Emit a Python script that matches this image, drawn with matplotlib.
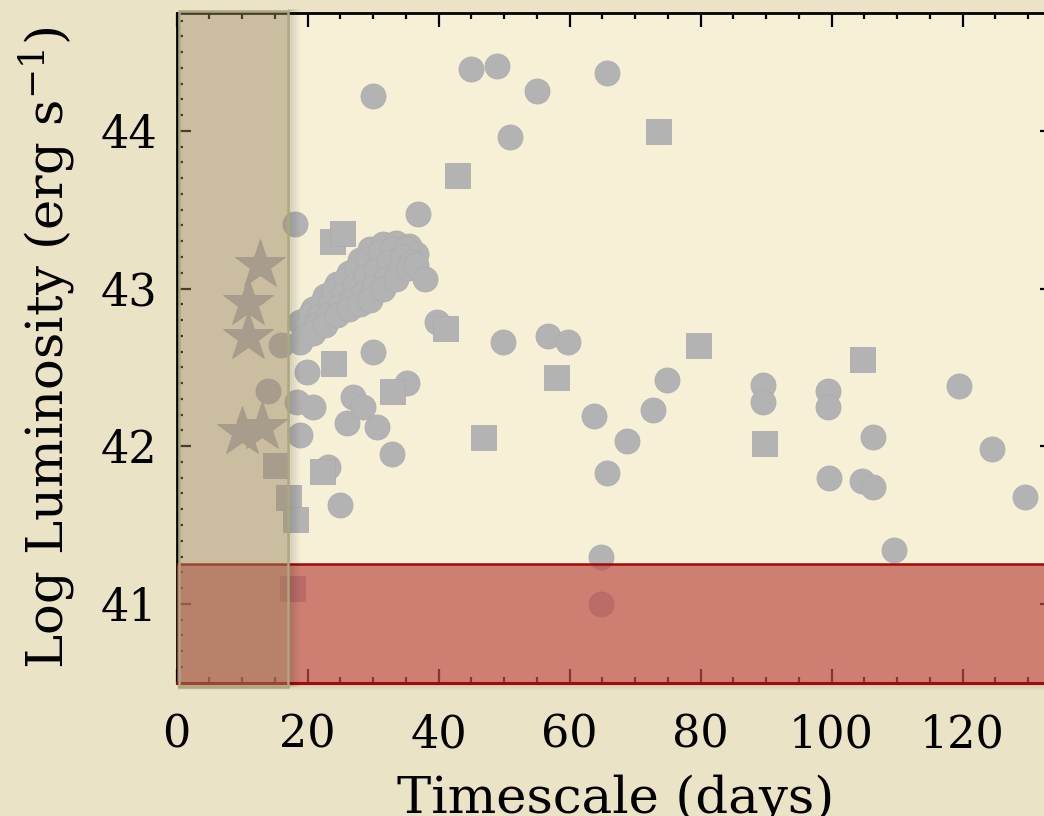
import numpy as np
import matplotlib
matplotlib.use("Agg")
import matplotlib.pyplot as plt
from matplotlib.patches import Rectangle
from matplotlib.ticker import MultipleLocator

plt.rcParams['font.family'] = ['DejaVu Serif']
plt.rcParams['mathtext.fontset'] = 'dejavuserif'

# events drawn as filled circles (timescale in days, log luminosity)
circle_x = [30.0, 45.0, 48.9, 55.0, 50.9, 65.7, 36.9, 18.1,
            # dense track of one source
            18.9, 20.8, 22.6, 24.5, 26.3, 28.0, 29.5, 31.5, 33.5, 35.5, 36.5,
            20.3, 22.2, 24.0, 25.9, 27.6, 29.3, 31.0, 33.0, 35.0,
            19.8, 21.7, 23.5, 25.4, 27.2, 29.0, 30.5, 32.5, 34.5,
            19.4, 21.3, 23.1, 25.0, 26.8, 28.6, 30.1, 32.0, 34.0, 36.0,
            18.9, 20.8, 22.6, 24.5, 26.3, 28.0, 29.5, 31.5, 33.5, 35.5, 36.5,
            37.9,
            19.9, 30.0, 39.8, 49.8, 14.0, 15.9, 18.4, 20.8, 18.9, 23.1, 25.0,
            26.9, 35.2, 26.0, 30.6, 28.5, 32.9,
            56.7, 59.8, 74.9, 72.7, 63.7, 68.8, 65.7,
            89.5, 89.5, 99.5, 99.5, 106.3, 119.5, 124.5, 129.5, 99.6, 104.7, 106.3,
            109.5, 64.8, 64.8]
circle_y = [44.22, 44.39, 44.41, 44.25, 43.96, 44.37, 43.47, 43.41,
            42.79, 42.87, 42.95, 43.03, 43.10, 43.18, 43.25, 43.28, 43.29, 43.27, 43.22,
            42.83, 42.91, 42.99, 43.06, 43.13, 43.19, 43.23, 43.25, 43.25,
            42.75, 42.82, 42.90, 42.96, 43.02, 43.08, 43.12, 43.17, 43.20,
            42.70, 42.77, 42.83, 42.89, 42.93, 42.97, 43.01, 43.06, 43.12, 43.17,
            42.66, 42.72, 42.77, 42.83, 42.87, 42.90, 42.93, 43.00, 43.06, 43.13, 43.15,
            43.06,
            42.47, 42.60, 42.79, 42.66, 42.35, 42.64, 42.28, 42.25, 42.07, 41.87, 41.63,
            42.31, 42.40, 42.15, 42.12, 42.25, 41.95,
            42.70, 42.66, 42.42, 42.23, 42.19, 42.03, 41.83,
            42.39, 42.28, 42.35, 42.25, 42.06, 42.38, 41.98, 41.68, 41.80, 41.78, 41.74,
            41.34, 41.30, 41.00]

# events drawn as squares
square_x = [23.7, 25.3, 23.9, 41.0, 15.0, 17.0, 18.1, 22.2, 32.9, 57.9,
            79.6, 46.8, 104.7, 89.7, 17.6, 42.8, 73.5]
square_y = [43.30, 43.35, 42.53, 42.75, 41.88, 41.68, 41.54, 41.84, 42.35, 42.44,
            42.64, 42.06, 42.55, 42.02, 41.10, 43.72, 44.00]

# events drawn as stars
star_x = [12.7, 10.9, 10.9, 10.0, 13.1]
star_y = [43.15, 42.91, 42.69, 42.09, 42.12]

# shaded regions
short_limit = 17.0
faint_limit = 41.25

x_ticks = [0, 20, 40, 60, 80, 100, 120]
y_ticks = [41, 42, 43, 44]

fig = plt.figure(figsize=(10.44, 8.16), dpi=100, facecolor='#ebe3c5')
ax = fig.add_axes([0.1691, 0.1634, 0.8407, 0.8211])
ax.set_facecolor('#f6f0d7')
ax.set_xlim(0, 134)
ax.set_ylim(40.5, 44.75)

point_color = '#b3b3b3'
ax.plot(circle_x, circle_y, 'o', ms=18, color=point_color, mec='#adadad', mew=0.6, zorder=2)
ax.plot(square_x, square_y, 's', ms=18, color=point_color, mec='#adadad', mew=0.6, zorder=2)
ax.plot(star_x, star_y, '*', ms=38, color=point_color, mec='#adadad', mew=0.6, zorder=2)

ax.set_axisbelow(False)
for s in ax.spines.values():
    s.set_linewidth(2)
ax.xaxis.set_minor_locator(MultipleLocator(5))
ax.yaxis.set_minor_locator(MultipleLocator(0.1))
ax.set_xticks(x_ticks)
ax.set_yticks(y_ticks)
ax.tick_params(which='both', direction='in', top=True, right=True, width=1.6, colors='black')
ax.tick_params(which='major', length=10, labelsize=32, pad=14)
ax.tick_params(which='minor', length=4.5)
ax.tick_params(axis='x', which='major', pad=22)

ax.set_xlabel('Timescale (days)', fontsize=37, labelpad=13)
ax.set_ylabel(r'Log Luminosity (erg s$^{-1}$)', fontsize=37, labelpad=17)

# low luminosity band
ax.add_patch(Rectangle((0, 40.5), 140, faint_limit - 40.5, facecolor=(191/255, 78/255, 72/255),
                       alpha=0.7, edgecolor='none', zorder=3))
ax.axhline(faint_limit, color='#a00a0a', lw=1.8, zorder=3.1)
ax.axhline(40.5, color='#a00a0a', lw=2.2, zorder=3.1, clip_on=False)
for i in range(1, 5):
    ax.add_patch(Rectangle((0, 40.5 - 0.012 * i), 140, 0.012 * i, facecolor='black',
                           alpha=0.03, edgecolor='none', zorder=3.05, clip_on=False))

# short timescale band with its drop shadow
for i in range(1, 7):
    ax.add_patch(Rectangle((short_limit, 40.47), 0.3 * i, 4.3, facecolor='black',
                           alpha=0.025, edgecolor='none', zorder=3.5, clip_on=False))
ax.add_patch(Rectangle((0.45, 40.47), short_limit - 0.45, 4.29,
                       facecolor=(156/255, 133/255, 98/255), alpha=0.47,
                       edgecolor='none', zorder=4, clip_on=False))
ax.add_patch(Rectangle((0.45, 40.47), short_limit - 0.45, 4.29, facecolor='none',
                       edgecolor='#aaa87c', lw=1.8, zorder=4.1, clip_on=False))

fig.savefig('out.png', dpi=100, facecolor=fig.get_facecolor())
